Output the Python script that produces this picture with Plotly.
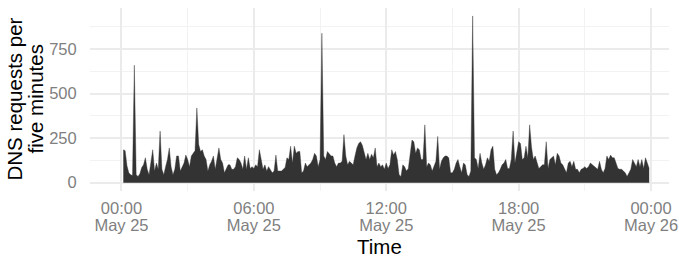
import plotly.graph_objects as go
import pandas as pd

# ---- data ----
start_time = "2024-05-25 00:05"
step = "5min"
requests = [
    185, 180, 95, 55, 45, 40, 660, 45, 35, 50,
    85, 100, 140, 75, 45, 110, 185, 65, 110, 75,
    290, 75, 45, 90, 130, 195, 90, 45, 75, 150,
    150, 65, 90, 110, 155, 130, 90, 150, 165, 180,
    420, 215, 175, 185, 150, 130, 65, 100,
    120, 150, 75, 130, 195, 130, 110, 55, 75, 100,
    100, 75, 75, 90, 140, 130, 110, 75, 150, 75,
    140, 80, 90, 80, 100, 90, 185, 120, 75, 100,
    65, 90, 75, 55, 65, 155, 65, 65, 65, 75,
    85, 140, 130, 205, 110, 205, 165, 175,
    175, 55, 65, 110, 90, 100, 110, 130, 165, 150,
    90, 130, 840, 150, 130, 175, 165, 150, 150, 110,
    90, 110, 110, 120, 270, 150, 100, 120, 110, 100,
    150, 195, 220, 230, 210, 165, 130, 165, 130, 160,
    140, 195, 90, 110, 90, 100, 75, 110,
    80, 100, 185, 155, 175, 130, 45, 35, 100, 90,
    65, 80, 150, 240, 230, 165, 195, 185, 130, 130,
    325, 90, 110, 100, 65, 90, 120, 260, 75, 120,
    140, 150, 150, 140, 55, 55, 75, 110, 130, 90,
    55, 110, 100, 45, 35, 65, 937,
    140, 130, 80, 165, 110, 75, 100, 140, 120, 185,
    205, 75, 45, 55, 75, 100, 110, 130, 80, 80,
    130, 290, 110, 185, 230, 220, 130, 140, 205, 140,
    325, 200, 130, 150, 110, 80, 90, 100, 100, 230,
    80, 130, 140, 150, 100, 165, 150, 110, 100,
    75, 55, 110, 120, 90, 120, 75, 75, 55, 75,
    80, 90, 80, 90, 110, 100, 90, 80, 75, 120,
    75, 55, 80, 150, 130, 155, 140, 140, 110, 80,
    75, 75, 65, 55, 35, 55, 75, 130, 110, 90,
    130, 90, 130, 80, 140, 110, 80,
]
times = pd.date_range(start_time, periods=len(requests), freq=step)

x_title = "Time"
y_title_lines = ["DNS requests per", "five minutes"]

# ---- layout geometry ----
W, H = 679, 266
ml, mr, mt, mb = 89.5, 10, 8, 74.6
day0 = pd.Timestamp("2024-05-25 00:00")
px_per_min = 530 / 1440
x_left = day0 - pd.Timedelta(minutes=(121 - ml) / px_per_min)
x_right = day0 + pd.Timedelta(minutes=(W - mr - 121) / px_per_min)
y_range = [-46.9, 981.7]

FONT = "Liberation Sans, Arial, Helvetica, sans-serif"
TICK_COLOR = "#7f7f7f"
GRID = "#ebebeb"
MINOR_GRID = "#f2f2f2"
tick_size = 16.5
title_size = 20.5

fig = go.Figure()
fig.add_trace(go.Scatter(
    x=times, y=requests, mode="lines", fill="tozeroy",
    fillcolor="#333333", line=dict(color="#333333", width=0.4),
    hoverinfo="skip", showlegend=False,
))
# helper trace so the second (date-label) x axis is drawn
fig.add_trace(go.Scatter(
    x=[times[0]], y=[0], xaxis="x2", mode="markers",
    marker=dict(opacity=0), hoverinfo="skip", showlegend=False,
))

six_h = 6 * 3600 * 1000
three_h = 3 * 3600 * 1000

common_x = dict(
    type="date", range=[x_left, x_right], tick0=day0, dtick=six_h,
    ticks="outside", tickcolor="rgba(0,0,0,0)",
    tickfont=dict(family=FONT, size=tick_size, color=TICK_COLOR),
    showline=False, zeroline=False, automargin=False,
)

fig.update_layout(
    width=W, height=H,
    margin=dict(l=ml, r=mr, t=mt, b=mb, pad=0),
    paper_bgcolor="white", plot_bgcolor="white",
    font=dict(family=FONT),
    xaxis=dict(
        **common_x, tickformat="%H:%M", ticklen=2,
        showgrid=True, gridcolor=GRID, gridwidth=1.8,
        minor=dict(dtick=three_h, tick0=day0, showgrid=True,
                   gridcolor=MINOR_GRID, gridwidth=1, ticks=""),
    ),
    xaxis2=dict(
        **common_x, tickformat="%b %d", ticklen=19,
        overlaying="x", anchor="y", side="bottom", showgrid=False,
    ),
    yaxis=dict(
        range=y_range, tick0=0, dtick=250,
        ticks="outside", ticklen=9, tickcolor="rgba(0,0,0,0)",
        tickfont=dict(family=FONT, size=tick_size, color=TICK_COLOR),
        showgrid=True, gridcolor=GRID, gridwidth=1.8,
        minor=dict(dtick=125, showgrid=True, gridcolor=MINOR_GRID,
                   gridwidth=1, ticks=""),
        zeroline=False, showline=False, automargin=False,
    ),
    annotations=[
        dict(text=y_title_lines[0], xref="paper", yref="paper", x=0, y=0.5,
             xanchor="center", yanchor="middle", textangle=-90, xshift=-76,
             showarrow=False, font=dict(family=FONT, size=title_size, color="black")),
        dict(text=y_title_lines[1], xref="paper", yref="paper", x=0, y=0.5,
             xanchor="center", yanchor="middle", textangle=-90, xshift=-55,
             showarrow=False, font=dict(family=FONT, size=title_size, color="black")),
        dict(text=x_title, xref="paper", yref="paper", x=0.5, y=0,
             xanchor="center", yanchor="middle", yshift=-55,
             showarrow=False, font=dict(family=FONT, size=title_size, color="black")),
    ],
)

fig.write_html("out.html", config={"displayModeBar": False},
               post_script="document.body.style.margin='0';")
